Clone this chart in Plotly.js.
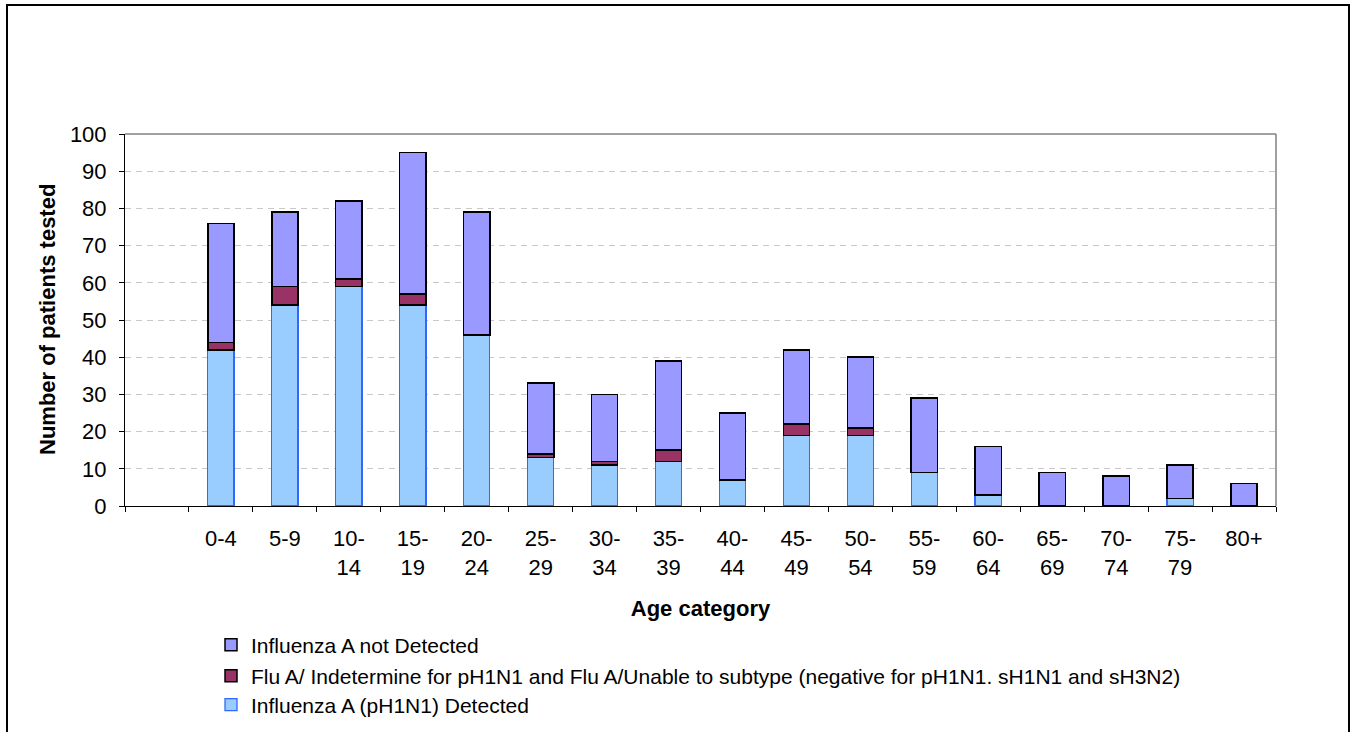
<!DOCTYPE html>
<html>
<head>
<meta charset="utf-8">
<script src="https://cdn.plot.ly/plotly-3.0.1.min.js"></script>
<style>
  html, body { margin: 0; padding: 0; background: #fff; overflow: hidden; }
  #chart { width: 1352px; height: 732px; }
  #frame { position: absolute; left: 6px; top: 4px; width: 1340px; height: 900px;
           border: 2px solid #000; pointer-events: none; }
</style>
</head>
<body>
<div id="chart"></div>
<div id="frame"></div>
<script>
// ---- data ----
var blankCategory = ' ';
var ageLabels = ['0-4', '5-9', '10-<br>14', '15-<br>19', '20-<br>24', '25-<br>29', '30-<br>34',
                 '35-<br>39', '40-<br>44', '45-<br>49', '50-<br>54', '55-<br>59', '60-<br>64',
                 '65-<br>69', '70-<br>74', '75-<br>79', '80+'];
var detected      = [42, 54, 59, 54, 46, 13, 11, 12, 7, 19, 19, 9, 3, 0, 0, 2, 0];
var indeterminate = [2, 5, 2, 3, 0, 1, 1, 3, 0, 3, 2, 0, 0, 0, 0, 0, 0];
var notDetected   = [32, 20, 21, 38, 33, 19, 18, 24, 18, 20, 19, 20, 13, 9, 8, 9, 6];
var seriesNames = [
  'Influenza A (pH1N1) Detected',
  'Flu A/ Indetermine for pH1N1 and Flu A/Unable to subtype (negative for pH1N1. sH1N1 and sH3N2)',
  'Influenza A not Detected'
];
var yTicks = [0, 10, 20, 30, 40, 50, 60, 70, 80, 90, 100];
var xTitle = 'Age category';
var yTitle = 'Number of patients tested';

var FONT = 'Liberation Sans, Arial, sans-serif';
var LEGFONT = {family: FONT, size: 21, color: '#000'};

var traces = [
  {type: 'bar', name: seriesNames[0], x: ageLabels, y: detected, legend: 'legend3',
   marker: {color: '#99CCFF', line: {color: '#3366FF', width: 1.3}}},
  {type: 'bar', name: seriesNames[1], x: ageLabels, y: indeterminate, legend: 'legend2',
   marker: {color: '#993366', line: {color: '#000000', width: 1.5}}},
  {type: 'bar', name: seriesNames[2], x: ageLabels, y: notDetected, legend: 'legend',
   marker: {color: '#9999FF', line: {color: '#000000', width: 1.5}}}
];

function leg(y) {
  return {xref: 'container', yref: 'container', x: 211 / 1352, y: y, xanchor: 'left', yanchor: 'middle',
          font: LEGFONT, bgcolor: 'rgba(0,0,0,0)', borderwidth: 0};
}

var layout = {
  width: 1352, height: 732,
  margin: {l: 125, r: 76, t: 134, b: 226, autoexpand: false},
  paper_bgcolor: '#fff', plot_bgcolor: '#fff',
  font: {family: FONT, color: '#000'},
  barmode: 'stack', bargap: 0.59,
  showlegend: true,
  legend: leg(1 - 645 / 732),
  legend2: leg(1 - 676 / 732),
  legend3: leg(1 - 705 / 732),
  xaxis: {
    type: 'category', categoryorder: 'array', categoryarray: [blankCategory].concat(ageLabels),
    range: [-0.5, 17.5], tickson: 'boundaries', ticks: 'outside', ticklen: 5, tickcolor: '#000',
    showline: true, linecolor: '#000', linewidth: 1, showgrid: false, zeroline: false,
    tickangle: 0, automargin: true,
    tickfont: {family: FONT, size: 22, color: '#000'}, ticklabelstandoff: 13,
    title: {text: xTitle, font: {family: FONT, size: 22, color: '#000', weight: 'bold'}, standoff: 21}
  },
  yaxis: {
    range: [0, 100], tickvals: yTicks, ticks: 'outside', ticklen: 5, tickcolor: '#000',
    showline: true, linecolor: '#000', linewidth: 1, zeroline: false, automargin: false,
    showgrid: true, gridcolor: '#C8C8C8', griddash: '6px,5px', gridwidth: 1,
    tickfont: {family: FONT, size: 22, color: '#000'}, ticklabelstandoff: 8
  },
  annotations: [
    {text: yTitle, xref: 'paper', yref: 'paper', x: (47 - 125) / 1151, y: 0.5,
     xanchor: 'center', yanchor: 'middle', textangle: -90, showarrow: false,
     font: {family: FONT, size: 22, color: '#000', weight: 'bold'}}
  ],
  shapes: [
    {type: 'line', xref: 'paper', yref: 'paper', x0: 0, x1: 1, y0: 1, y1: 1, line: {color: '#808080', width: 1.5}},
    {type: 'line', xref: 'paper', yref: 'paper', x0: 1, x1: 1, y0: 0, y1: 1, line: {color: '#808080', width: 1.5}}
  ]
};

Plotly.newPlot('chart', traces, layout, {displayModeBar: false, staticPlot: true});
</script>
</body>
</html>
